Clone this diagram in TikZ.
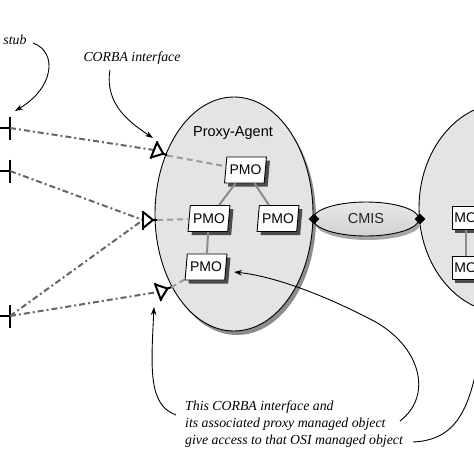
\documentclass[tikz,border=0pt]{standalone}
\usepackage{fontspec}
\setmainfont{Liberation Serif}
\setsansfont{Liberation Sans}
\usetikzlibrary{shapes.geometric,arrows.meta,shadows}
\definecolor{agentfill}{HTML}{E4E4E4}
\definecolor{dashdark}{HTML}{666666}
\definecolor{dashlight}{HTML}{9C9C9C}
\definecolor{linkgray}{HTML}{8C8C8C}
\begin{document}
\begin{tikzpicture}[x=1pt,y=-1pt,
  lbl/.style={font=\itshape\fontsize{13.8}{16.7}\selectfont, inner sep=0pt},
  sanslbl/.style={font=\sffamily\fontsize{14.5}{15}\selectfont, inner sep=0pt},
  pmo/.style={trapezium, trapezium left angle=79, trapezium right angle=101,
    trapezium stretches=true, draw, fill=white, line width=0.9pt,
    minimum width=42pt, minimum height=26pt, inner xsep=0pt, inner ysep=0pt,
    font=\sffamily\fontsize{14}{14}\selectfont,
    drop shadow={fill=black!70, opacity=1, shadow xshift=3.5pt, shadow yshift=-3.5pt}},
  mo/.style={rectangle, draw, fill=white, line width=0.9pt, anchor=west,
    minimum height=23pt, text width=40pt, align=left, inner xsep=2pt,
    font=\sffamily\fontsize{14}{14}\selectfont,
    drop shadow={fill=black!70, opacity=1, shadow xshift=3pt, shadow yshift=-3.5pt}},
  pointer/.style={-{Stealth[length=8pt,width=5.5pt]}, line width=0.9pt},
  stubline/.style={draw=dashdark, line width=2pt, dash pattern=on 6pt off 3pt on 2pt off 3pt},
  innerline/.style={draw=dashlight, line width=2pt, dash pattern=on 6pt off 4pt},
  link/.style={draw=linkgray, line width=2pt},
  stubbar/.style={line width=2.6pt},
  corba/.pic={
    \draw[line width=2pt] (0,-9.5) -- (0,9.5);
    \draw[line width=2pt, line join=miter] (0,-8) -- (10,0) -- (0,8);
    \draw[line width=2pt] (10,0) -- (14,0);
  }
]
\useasboundingbox (0,0) rectangle (474,474);
\clip (0,0) rectangle (474,474);
\fill[white] (0,0) rectangle (474,474);

% right agent ellipse
\node[ellipse, draw, line width=0.9pt, fill=agentfill, minimum width=172pt,
  minimum height=210pt, inner sep=0pt] (osi) at (505,208) {};

% proxy agent ellipse
\node[ellipse, draw, line width=0.9pt, fill=agentfill, minimum width=158pt,
  minimum height=234pt, inner sep=0pt,
  drop shadow={fill=black!45, opacity=1, shadow xshift=3pt, shadow yshift=-4pt}]
  (agent) at (234,214) {};
\node[sanslbl] (agentlbl) at (233,133) {Proxy-Agent};

% CMIS
\node[ellipse, draw, line width=0.9pt, minimum width=106pt, minimum height=34pt,
  inner sep=0pt, top color=black!9, middle color=white, bottom color=black!18,
  drop shadow={fill=black!35, opacity=1, shadow xshift=2pt, shadow yshift=-4pt},
  font=\sffamily\fontsize{14.5}{15}\selectfont, text=black!85] (cmis) at (366,219) {CMIS};
\node[diamond, fill=black, minimum size=11pt, inner sep=0pt] (d1) at (314,219) {};
\node[diamond, fill=black, minimum size=11pt, inner sep=0pt] (d2) at (420,219) {};

% PMOs
\node[pmo] (p1) at (245.5,170) {PMO};
\node[pmo] (p2) at (209,218.5) {PMO};
\node[pmo] (p3) at (278,218.5) {PMO};
\node[pmo] (p4) at (206,267) {PMO};
\draw[link] (p1) -- (p2);
\draw[link] (p1) -- (p3);
\draw[link] (p2) -- (p4);

% MOs
\node[mo] (m1) at (452,218) {MO};
\node[mo] (m2) at (452,268) {MO};
\path (m1.south west) ++(14,0) coordinate (m1b);
\path (m2.north west) ++(14,0) coordinate (m2t);
\draw[link] (m1b) -- (m2t);

% stubs
\coordinate (s1) at (10,128);
\coordinate (s2) at (10,171);
\coordinate (s3) at (10,316);
\foreach \s in {s1,s2,s3}{
  \draw[stubbar] (\s) ++(0,-11.5) -- ++(0,23);
  \draw[stubbar] (\s) -- ++(-12,0);
}

% CORBA interfaces
\coordinate (i1) at (154,150);
\coordinate (i2) at (143,220);
\coordinate (i3) at (158,292);
\coordinate (i1e) at (167,155.5);
\coordinate (i2e) at (157,220);
\coordinate (i3e) at (171,287.5);

\draw[stubline] (s1) -- (i1);
\draw[stubline] (s2) -- (i2);
\draw[stubline] (s3) -- (i2);
\draw[stubline] (s3) -- (i3);
\draw[innerline] (i1e) -- (p1);
\draw[innerline] (i2e) -- (p2);
\draw[innerline] (i3e) -- (p4);

\pic[rotate=-22] at (i1) {corba};
\pic at (i2) {corba};
\pic[rotate=20] at (i3) {corba};

% labels
\node[lbl] (stub) at (15,40) {stub};
\node[lbl] (corbalbl) at (132,58) {CORBA interface};
\node[lbl, align=left, anchor=north west] (cap) at (185,401)
  {This CORBA interface and\\its associated proxy managed object\\give access to that OSI managed object};

% pointers
\coordinate (a1s) at (33,43);
\coordinate (a1e) at (15,111);
\draw[pointer] (a1s) .. controls (58,52) and (54,88) .. (a1e);
\coordinate (a2s) at (110,70);
\coordinate (a2e) at (153,138);
\draw[pointer] (a2s) .. controls (104,105) and (132,124) .. (a2e);
\coordinate (a3s) at (176,415);
\coordinate (a3e) at (154,307);
\draw[pointer] (a3s) .. controls (148,405) and (151,368) .. (a3e);
\coordinate (a4s) at (400,421);
\coordinate (a4m) at (372,320);
\coordinate (a4e) at (234,272);
\draw[pointer] (a4s) .. controls (434,395) and (420,345) .. (a4m)
  .. controls (320,293) and (272,276) .. (a4e);
\coordinate (a5s) at (413,442);
\coordinate (a5e) at (480,350);
\draw[line width=0.9pt] (a5s) .. controls (455,440) and (470,412) .. (a5e);
\end{tikzpicture}
\end{document}
